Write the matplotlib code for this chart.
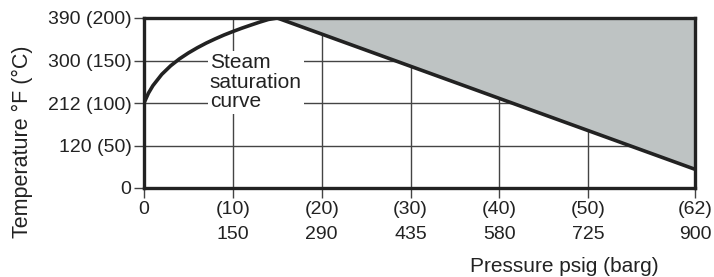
import matplotlib
matplotlib.use("Agg")
import matplotlib.pyplot as plt

plt.rcParams['font.family'] = ['Liberation Sans', 'DejaVu Sans']

# Data
sat_barg = [0, 0.5, 1, 2, 3, 4, 5, 6, 7, 8, 9, 10, 11, 12, 13, 14, 15]
sat_temp_c = [100, 111.6, 120.4, 133.7, 143.8, 152, 158.9, 165, 170.5, 175.4, 180, 184.1, 188, 191.6, 195.1, 198.3, 200]
limit_barg = [15, 62]
limit_temp_c = [200, 22]
x_ticks = [0, 10, 20, 30, 40, 50, 62]
x_labels = ["0", "(10)\n150", "(20)\n290", "(30)\n435", "(40)\n580", "(50)\n725", "(62)\n900"]
y_ticks = [0, 50, 100, 150, 200]
y_labels = ["0", "120 (50)", "212 (100)", "300 (150)", "390 (200)"]

fig = plt.figure(figsize=(7.14, 2.77), dpi=100)
ax = fig.add_axes([144/714, 1-188/277, (695-144)/714, (188-18)/277])
ax.set_xlim(0, 62)
ax.set_ylim(0, 200)

ax.set_xticks(x_ticks)
ax.set_xticklabels(x_labels, fontsize=14, linespacing=1.65, color='#222222')
ax.set_yticks(y_ticks)
ax.set_yticklabels(y_labels, fontsize=14, color='#222222')
ax.tick_params(axis='both', direction='out', length=7, width=1, color='#444444', pad=2)

ax.set_axisbelow(True)
ax.grid(True, color='#444444', linewidth=1)

ax.fill_between(limit_barg, limit_temp_c, [200, 200], color='#bec3c3', zorder=1, linewidth=0)
ax.plot(sat_barg, sat_temp_c, color='#222222', linewidth=2.6, zorder=2, solid_capstyle='butt')
ax.plot(limit_barg, limit_temp_c, color='#222222', linewidth=2.6, zorder=2, solid_capstyle='butt')

for s in ax.spines.values():
    s.set_linewidth(2.4)
    s.set_color('#222222')
    s.set_zorder(5)

ax.text(7.4, 124.5, "Steam\nsaturation\ncurve", ha='left', va='center', fontsize=15,
        linespacing=1.05, color='#222222', zorder=3,
        bbox=dict(facecolor='white', edgecolor='none', pad=1.5))

fig.text(22/714, 1-142/277, "Temperature °F (°C)", rotation=90, ha='center', va='center',
         fontsize=15.5, color='#222222')
fig.text(564/714, 1-267/277, "Pressure psig (barg)", ha='center', va='center',
         fontsize=15, color='#222222')

fig.savefig("out.png", dpi=100)
